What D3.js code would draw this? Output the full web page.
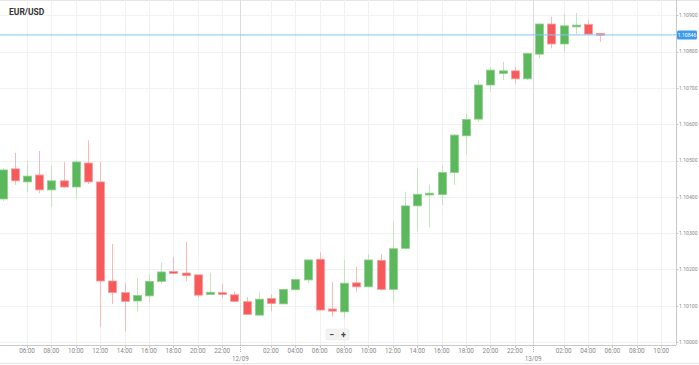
<!DOCTYPE html>
<html><head><meta charset="utf-8">
<script src="https://cdn.jsdelivr.net/npm/d3@7"></script>
<style>
html,body{margin:0;padding:0;background:#fff;}
svg{display:block;font-family:Roboto, "Open Sans", Arial, sans-serif;}
</style></head>
<body><svg id="chart" width="699" height="365"></svg>
<script>
// ---- data (hourly candles) ----
const times = [
 "2019-09-11 04:00","2019-09-11 05:00","2019-09-11 06:00","2019-09-11 07:00","2019-09-11 08:00",
 "2019-09-11 09:00","2019-09-11 10:00","2019-09-11 11:00","2019-09-11 12:00","2019-09-11 13:00",
 "2019-09-11 14:00","2019-09-11 15:00","2019-09-11 16:00","2019-09-11 17:00","2019-09-11 18:00",
 "2019-09-11 19:00","2019-09-11 20:00","2019-09-11 21:00","2019-09-11 22:00","2019-09-11 23:00",
 "2019-09-12 00:00","2019-09-12 01:00","2019-09-12 02:00","2019-09-12 03:00","2019-09-12 04:00",
 "2019-09-12 05:00","2019-09-12 06:00","2019-09-12 07:00","2019-09-12 08:00","2019-09-12 09:00",
 "2019-09-12 10:00","2019-09-12 11:00","2019-09-12 12:00","2019-09-12 13:00","2019-09-12 14:00",
 "2019-09-12 15:00","2019-09-12 16:00","2019-09-12 17:00","2019-09-12 18:00","2019-09-12 19:00",
 "2019-09-12 20:00","2019-09-12 21:00","2019-09-12 22:00","2019-09-12 23:00","2019-09-13 00:00",
 "2019-09-13 01:00","2019-09-13 02:00","2019-09-13 03:00","2019-09-13 04:00","2019-09-13 05:00"
];
const opens = [
 1.10394,1.10477,1.10441,1.10460,1.10419,1.10444,1.10427,1.10493,1.10441,1.10168,
 1.10136,1.10113,1.10127,1.10167,1.10194,1.10190,1.10185,1.10131,1.10136,1.10130,
 1.10111,1.10074,1.10120,1.10105,1.10144,1.10171,1.10228,1.10091,1.10083,1.10163,
 1.10152,1.10225,1.10145,1.10258,1.10375,1.10407,1.10406,1.10467,1.10568,1.10614,
 1.10708,1.10740,1.10747,1.10725,1.10793,1.10876,1.10821,1.10871,1.10875,1.10850
];
const highs = [
 1.10479,1.10521,1.10499,1.10526,1.10485,1.10496,1.10499,1.10556,1.10496,1.10270,
 1.10163,1.10176,1.10187,1.10218,1.10234,1.10275,1.10187,1.10191,1.10160,1.10139,
 1.10124,1.10137,1.10131,1.10146,1.10174,1.10228,1.10247,1.10166,1.10226,1.10207,
 1.10242,1.10242,1.10331,1.10414,1.10479,1.10434,1.10486,1.10573,1.10630,1.10722,
 1.10758,1.10772,1.10758,1.10797,1.10878,1.10896,1.10904,1.10906,1.10887,1.10850
];
const lows = [
 1.10388,1.10433,1.10413,1.10410,1.10372,1.10424,1.10394,1.10435,1.10041,1.10105,
 1.10029,1.10084,1.10109,1.10160,1.10187,1.10168,1.10123,1.10130,1.10120,1.10110,
 1.10074,1.10073,1.10085,1.10104,1.10143,1.10162,1.10087,1.10070,1.10065,1.10137,
 1.10151,1.10141,1.10109,1.10255,1.10304,1.10316,1.10377,1.10433,1.10518,1.10607,
 1.10691,1.10722,1.10710,1.10722,1.10782,1.10809,1.10800,1.10848,1.10847,1.10827
];
const closes = [
 1.10474,1.10444,1.10457,1.10419,1.10444,1.10427,1.10496,1.10441,1.10168,1.10136,
 1.10112,1.10128,1.10167,1.10193,1.10190,1.10183,1.10129,1.10137,1.10132,1.10112,
 1.10076,1.10118,1.10106,1.10145,1.10172,1.10226,1.10088,1.10085,1.10162,1.10152,
 1.10226,1.10145,1.10257,1.10375,1.10407,1.10410,1.10467,1.10570,1.10613,1.10708,
 1.10749,1.10747,1.10725,1.10795,1.10876,1.10821,1.10871,1.10873,1.10848,1.10846
];
const yTicks = [1.10000,1.10100,1.10200,1.10300,1.10400,1.10500,1.10600,1.10700,1.10800,1.10900];
const dayLabels = ["12/09","13/09"];
const dayStarts = ["2019-09-12 00:00","2019-09-13 00:00"];
const lastPrice = 1.10846;
const title = "EUR/USD";

// ---- setup ----
const parse = d3.timeParse("%Y-%m-%d %H:%M");
const candles = times.map((t,i)=>({t:parse(t),o:opens[i],h:highs[i],l:lows[i],c:closes[i]}));
const svg = d3.select("#chart");
const W = 699, H = 365;
const plotRight = 676, plotBottom = 345;

const x = d3.scaleTime()
  .domain([parse("2019-09-11 06:00"), parse("2019-09-13 10:00")])
  .range([27, 661.2]);
const y = d3.scaleLinear().domain([1.10000, 1.10900]).range([342, 15.3]);

const fmtH = d3.timeFormat("%H:%M");
const tickTimes = d3.timeHour.every(2).range(parse("2019-09-11 00:00"), parse("2019-09-13 12:00"))
  .filter(d => x(d) > 5 && x(d) < plotRight - 4 && d.getHours() !== 0);

// top & bottom borders
svg.append("line").attr("x1",0).attr("x2",W).attr("y1",0.5).attr("y2",0.5).attr("stroke","#e6e6e6");
svg.append("line").attr("x1",0).attr("x2",W).attr("y1",363.5).attr("y2",363.5).attr("stroke","#e6e6e6");

// grid
const grid = svg.append("g");
grid.selectAll(".hg").data(yTicks).join("line")
  .attr("x1",0).attr("x2",plotRight).attr("y1",d=>Math.round(y(d))+0.5).attr("y2",d=>Math.round(y(d))+0.5)
  .attr("stroke","#f1f1f1");
grid.selectAll(".vg").data(tickTimes).join("line")
  .attr("x1",d=>Math.round(x(d))+0.5).attr("x2",d=>Math.round(x(d))+0.5).attr("y1",0).attr("y2",plotBottom)
  .attr("stroke","#f1f1f1");
const dayX = dayStarts.map(s => x(d3.timeMinute.offset(parse(s), -30)));
grid.selectAll(".dg").data(dayX).join("line")
  .attr("x1",d=>Math.round(d)+0.5).attr("x2",d=>Math.round(d)+0.5).attr("y1",0).attr("y2",plotBottom)
  .attr("stroke","#dcdcdc");

// title
svg.append("text").attr("x",9).attr("y",15).attr("font-size",8.5).attr("font-weight","bold")
  .attr("fill","#333").text(title);

// candles
svg.append("clipPath").attr("id","pc").append("rect")
  .attr("x",0).attr("y",0).attr("width",plotRight).attr("height",plotBottom);
const cg = svg.append("g").attr("clip-path","url(#pc)");
const up = "#5cb85c", dn = "#f65a5a";
const upW = "#c2e5be", dnW = "#f8b9b9";
const bw = 8;
cg.selectAll(".wick").data(candles).join("line")
  .attr("x1",d=>Math.round(x(d.t))+0.5).attr("x2",d=>Math.round(x(d.t))+0.5)
  .attr("y1",d=>y(d.h)).attr("y2",d=>y(d.l))
  .attr("stroke",d=>d.c>=d.o?upW:dnW).attr("stroke-width",1);
cg.selectAll(".body").data(candles).join("rect")
  .attr("x",d=>Math.round(x(d.t))+0.5-bw/2)
  .attr("y",d=>Math.min(y(d.o),y(d.c)))
  .attr("width",bw)
  .attr("height",d=>Math.max(1.8,Math.abs(y(d.o)-y(d.c))))
  .attr("fill",d=>d.c>=d.o?up:dn)
  .attr("stroke",d=>d.c>=d.o?"#8fd08a":"#fb9c9c").attr("stroke-width",0.8);

// price line
svg.append("line").attr("x1",0).attr("x2",plotRight).attr("y1",y(lastPrice)).attr("y2",y(lastPrice))
  .attr("stroke","#86c5ee").attr("stroke-width",1);

// right axis
const ra = svg.append("g");
ra.append("line").attr("x1",plotRight+0.5).attr("x2",plotRight+0.5).attr("y1",0).attr("y2",plotBottom)
  .attr("stroke","#c8c8c8");
const fmtY = d3.format(".5f");
ra.selectAll(".yt").data(yTicks).join("line")
  .attr("x1",plotRight).attr("x2",plotRight+2.5).attr("y1",d=>Math.round(y(d))+0.5).attr("y2",d=>Math.round(y(d))+0.5)
  .attr("stroke","#c8c8c8");
ra.selectAll(".yl").data(yTicks).join("text")
  .attr("x",679).attr("y",d=>y(d)+1.8).attr("font-size",5.1).attr("fill","#888").text(d=>fmtY(d));
// price tag
ra.append("rect").attr("x",677).attr("y",y(lastPrice)-4.5).attr("width",20).attr("height",9).attr("rx",1.5)
  .attr("fill","#3d9be9");
ra.append("text").attr("x",687).attr("y",y(lastPrice)+1.8).attr("text-anchor","middle")
  .attr("font-size",5.1).attr("fill","#fff").text(fmtY(lastPrice));

// bottom axis
const ba = svg.append("g");
ba.append("line").attr("x1",0).attr("x2",plotRight).attr("y1",plotBottom+0.5).attr("y2",plotBottom+0.5)
  .attr("stroke","#c8c8c8");
ba.selectAll(".xt").data(tickTimes).join("line")
  .attr("x1",d=>Math.round(x(d))+0.5).attr("x2",d=>Math.round(x(d))+0.5)
  .attr("y1",plotBottom).attr("y2",plotBottom+3).attr("stroke","#c8c8c8");
ba.selectAll(".xl").data(tickTimes).join("text")
  .attr("x",d=>x(d)).attr("y",353).attr("text-anchor","middle")
  .attr("font-size",6.3).attr("fill","#888").text(d=>fmtH(d));
ba.selectAll(".dt").data(dayX).join("line")
  .attr("x1",d=>Math.round(d)+0.5).attr("x2",d=>Math.round(d)+0.5)
  .attr("y1",plotBottom).attr("y2",plotBottom+7).attr("stroke","#aaa").attr("stroke-dasharray","1,1");
ba.selectAll(".dl").data(dayX).join("text")
  .attr("x",d=>d).attr("y",360.5).attr("text-anchor","middle")
  .attr("font-size",6.3).attr("fill","#888").text((d,i)=>dayLabels[i]);

// zoom buttons
const zb = svg.append("g");
[["−",326],["+",338]].forEach(([s,bx])=>{
  zb.append("rect").attr("x",bx).attr("y",329).attr("width",11).attr("height",11).attr("rx",1.5)
    .attr("fill","#f3f3f3").attr("stroke","#e2e2e2").attr("stroke-width",0.5);
  zb.append("text").attr("x",bx+5.5).attr("y",337.5).attr("text-anchor","middle")
    .attr("font-size",9).attr("font-weight","bold").attr("fill","#444").text(s);
});
</script></body></html>
